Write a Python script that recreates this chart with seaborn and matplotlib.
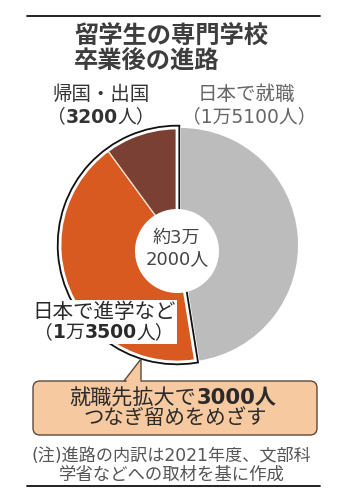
import matplotlib
matplotlib.use("Agg")
import matplotlib.pyplot as plt
import seaborn as sns
from matplotlib.offsetbox import TextArea, HPacker, VPacker, AnnotationBbox
from matplotlib.patches import FancyBboxPatch, Polygon, Circle

# ---- data ----
categories = ["日本で就職", "日本で進学など", "帰国・出国"]
values = [15100, 13500, 3200]
value_labels = ["（1万5100人）", "（1万3500人）", "（3200人）"]
total_label = ["約3万", "2000人"]
title_lines = ["留学生の専門学校", "卒業後の進路"]
callout_lines = ["就職先拡大で3000人", "つなぎ留めをめざす"]
note_lines = ["(注)進路の内訳は2021年度、文部科", "学省などへの取材を基に作成"]
colors = ["#bcbcbc", "#d85a20", "#7a4033"]

sns.set_theme(style="white")
plt.rcParams["font.family"] = ["DejaVu Sans", "Noto Sans CJK JP"]

W, H = 342, 499
fig = plt.figure(figsize=(W / 100, H / 100), dpi=100)
fig.patch.set_facecolor("white")
ax = fig.add_axes([0, 0, 1, 1])


def Y(p):
    return H - p


TXT = "#333333"
R = 117
c_main = (181, Y(245))
c_grp = (177, Y(245))

# gray slice (not exploded)
w1, _ = ax.pie(values, colors=colors, startangle=90, counterclock=False,
               radius=R, center=c_main, wedgeprops=dict(linewidth=0), frame=True)
for w in w1[1:]:
    w.set_visible(False)
w1[0].set_zorder(2)

# exploded group outline (black)
grp_vals = [values[0], values[1] + values[2]]
w2, _ = ax.pie(grp_vals, startangle=90, counterclock=False, radius=R,
               center=c_grp, frame=True,
               wedgeprops=dict(facecolor="none", edgecolor="#111111", linewidth=4.6))
w2[0].set_visible(False)
w2[1].set_zorder(2)

# exploded slices
w3, _ = ax.pie(values, colors=colors, startangle=90, counterclock=False,
               radius=R, center=c_grp, frame=True,
               wedgeprops=dict(edgecolor="#f3e3d3", linewidth=0.9))
w3[0].set_visible(False)
for w in w3[1:]:
    w.set_zorder(3)

# white inner outline of group
w4, _ = ax.pie(grp_vals, startangle=90, counterclock=False, radius=R,
               center=c_grp, frame=True,
               wedgeprops=dict(facecolor="none", edgecolor="white", linewidth=2.0))
w4[0].set_visible(False)
w4[1].set_zorder(4)

# hole
ax.add_patch(Circle((177, Y(251)), 42, facecolor="white", edgecolor="none", zorder=5))

ax.set_xlim(0, W)
ax.set_ylim(0, H)
ax.set_aspect("equal", adjustable="box")
ax.axis("off")


def line(parts, x, y, size, color=TXT, ha=0.5, zorder=8):
    if isinstance(parts, str):
        parts = [(parts, "normal")]
    kids = [TextArea(s, textprops=dict(fontsize=size, color=color, fontweight=wt))
            for s, wt in parts]
    pk = HPacker(children=kids, pad=0, sep=0, align="baseline")
    ab = AnnotationBbox(pk, (x, Y(y)), xycoords="data", frameon=False,
                        box_alignment=(ha, 0.5), pad=0, zorder=zorder)
    ax.add_artist(ab)
    return ab


# rules
ax.plot([27, 320], [Y(16), Y(16)], color="#111111", lw=1.3, zorder=1)
ax.plot([27, 320], [Y(486), Y(486)], color="#111111", lw=1.3, zorder=1)

# title
line([(title_lines[0], "bold")], 74, 37, 17.5, color="#3d3d3d", ha=0)
line([(title_lines[1], "bold")], 74, 62, 17.5, color="#3d3d3d", ha=0)

# labels
line(categories[2], 101, 94, 14, color="#333333")
line([("（", "normal"), ("3200", "bold"), ("人）", "normal")], 101, 117, 13.5, color="#333333")
line(categories[0], 246, 94, 14, color="#666666")
line(value_labels[0], 249, 117, 13.5, color="#666666")

# label with white background
k1 = HPacker(children=[TextArea(categories[1], textprops=dict(fontsize=14.8, color="#2a2a2a"))],
             pad=0, sep=0)
k2 = HPacker(children=[TextArea(s, textprops=dict(fontsize=13.5, color="#2a2a2a", fontweight=wt))
                       for s, wt in [("（", "normal"), ("1", "bold"), ("万", "normal"),
                                     ("3500", "bold"), ("人）", "normal")]],
             pad=0, sep=0, align="baseline")
vp = VPacker(children=[k1, k2], pad=0, sep=1, align="center")
ab = AnnotationBbox(vp, (104, Y(322)), xycoords="data", frameon=True,
                    box_alignment=(0.5, 0.5), pad=0.1, zorder=7,
                    bboxprops=dict(facecolor="white", edgecolor="none"))
ax.add_artist(ab)

# center total
line(total_label[0], 176, 238, 13, color="#444444")
line(total_label[1], 177, 259, 13, color="#444444")

# callout
peach = "#f7c9a0"
edge = "#5b4a3c"
box = FancyBboxPatch((33, Y(435)), 284, 54, boxstyle="round,pad=0,rounding_size=7",
                     facecolor=peach, edgecolor=edge, linewidth=1.0, zorder=6)
ax.add_patch(box)
tri = Polygon([(124, Y(381)), (141, Y(359)), (141, Y(381))], closed=True,
              facecolor=peach, edgecolor=edge, linewidth=1.0, zorder=6.5)
ax.add_patch(tri)
ax.plot([125.5, 140.2], [Y(381), Y(381)], color=peach, lw=2.2, zorder=6.6,
        solid_capstyle="butt")
line([("就職先拡大で", "normal"), ("3000人", "bold")], 173, 398, 15.2, color="#2a2a2a")
line(callout_lines[1], 175, 418, 14.7, color="#2a2a2a")

# notes
line(note_lines[0], 171, 456, 12.3, color="#555555")
line(note_lines[1], 172, 475, 12.5, color="#555555")

fig.savefig("out.png", dpi=100, facecolor="white")
